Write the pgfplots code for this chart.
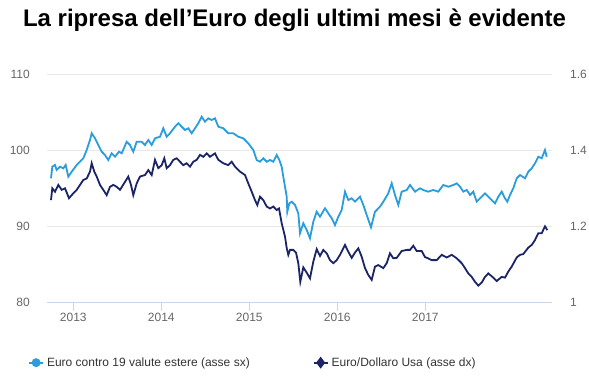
\documentclass[border=0pt]{standalone}
\usepackage{fontspec}
\setmainfont{Liberation Sans}
\usepackage{pgfplots}
\pgfplotsset{compat=1.18}
\definecolor{lightblue}{RGB}{42,157,220}
\definecolor{navy}{RGB}{26,36,102}
\definecolor{gridc}{RGB}{232,232,232}
\definecolor{axisc}{RGB}{204,214,235}
\definecolor{tickc}{RGB}{102,102,102}
\definecolor{legc}{RGB}{51,51,51}
\begin{document}
\begin{tikzpicture}
\useasboundingbox (0,0) rectangle (589pt,376pt);
\pgfplotsset{
  common/.style={
    at={(47pt,73.3pt)}, anchor=south west,
    scale only axis, width=505pt, height=228pt,
    xmin=47, xmax=552,
    /pgf/number format/assume math mode=true,
    ticklabel style={font=\fontsize{12}{14}\selectfont, text=tickc},
    clip=true,
  }
}
\begin{axis}[common,
  ymin=80, ymax=110,
  ytick={80,90,100,110},
  xtick={73.3,161.3,249.3,337.3,425.3},
  xticklabels={2013,2014,2015,2016,2017},
  ymajorgrids, major grid style={gridc, line width=1pt},
  separate axis lines,
  axis x line*=bottom,
  x axis line style={axisc, line width=1pt, -},
  axis y line*=left,
  y axis line style={draw=none},
  ytick style={draw=none},
  xtick style={axisc, line width=1pt},
  tick align=outside, major tick length=8pt,
  yticklabel style={anchor=east, inner sep=0pt, xshift=-9pt},
  xticklabel style={anchor=north, inner sep=0pt, yshift=-2pt},
  title={\fontsize{24}{28}\selectfont\bfseries La ripresa dell’Euro degli ultimi mesi è evidente},
  title style={at={(rel axis cs:0.49,1)}, anchor=center, yshift=48.7pt, inner sep=0pt},
]
\addplot[lightblue, line width=1.8pt] coordinates {
(51,96.37)(52.3,97.89)(55,98.12)(56.7,97.46)(60,97.89)(63.3,97.68)(65.7,98.12)(68.3,96.58)(71.7,97.24)(76.7,98.12)(80,98.55)(83.3,99.00)(86.7,100.09)(90,101.41)(91.7,102.29)(95,101.63)(98.3,100.75)(101.7,99.87)(105,99.43)(108.3,98.78)(111.7,99.66)(115,99.21)(119,99.87)(121.7,99.66)(126.7,101.18)(130,100.75)(133.3,99.87)(136.7,101.18)(141.7,101.18)(145,100.75)(148.3,101.41)(151.7,100.75)(155,101.63)(160,101.84)(163.3,102.95)(166.7,101.84)(170,102.29)(175,103.16)(178.3,103.61)(181.7,103.16)(185,102.72)(188.3,102.95)(191.7,102.29)(195,102.95)(198.3,103.61)(201.7,104.47)(205,103.82)(208.3,104.26)(211.7,104.04)(215,104.26)(218.3,103.16)(223.3,102.95)(228.3,102.29)(233.3,102.29)(238.3,101.84)(243.3,101.63)(248.3,100.97)(253.3,100.09)(256.7,98.78)(260,98.55)(263.3,99.00)(266.7,98.55)(270,98.78)(273.3,98.55)(276.7,99.43)(279.3,98.78)(281.7,97.89)(283.3,96.58)(285,95.26)(286.7,93.95)(287.3,91.97)(289.3,93.08)(291.7,93.29)(295,92.86)(298.3,91.76)(300,89.13)(303.3,90.45)(306.7,89.57)(310,88.47)(313.3,90.66)(316.7,91.97)(320,91.32)(325,92.42)(328.3,91.76)(331.7,91.11)(335,90.22)(338.3,91.32)(341.7,92.20)(345,94.61)(348.3,93.51)(351.7,93.74)(355,93.29)(360,93.95)(363.3,92.86)(366.7,91.54)(371,89.92)(375,91.97)(380,92.63)(383.3,93.29)(388.3,94.39)(391.7,95.71)(395,94.17)(398.3,92.86)(401.7,94.61)(406.7,94.83)(410,95.49)(415,94.61)(420,95.05)(423.3,94.83)(428.3,94.61)(433.3,94.83)(438.3,94.61)(443.3,95.49)(448.3,95.26)(453.3,95.49)(456.7,95.71)(460,95.26)(463.3,94.61)(466.7,94.83)(470,94.17)(473.3,94.61)(476.7,93.29)(480,93.74)(485,94.39)(488.3,93.95)(491.7,93.51)(495,93.08)(498.3,93.95)(501.7,94.61)(505,93.74)(507.3,93.29)(510,94.17)(513.3,95.05)(516.7,96.37)(520,96.80)(525,96.37)(528.3,97.24)(531.7,97.68)(535,98.34)(538.3,99.21)(541.7,99.00)(545,100.09)(546.7,99.21)
};
\end{axis}
\begin{axis}[common,
  ymin=1, ymax=1.6,
  ytick={1,1.2,1.4,1.6},
  yticklabels={1,1.2,1.4,1.6},
  xtick=\empty,
  separate axis lines,
  axis x line=none,
  axis y line*=right,
  y axis line style={draw=none},
  ytick style={draw=none},
  yticklabel style={anchor=west, inner sep=0pt, xshift=18pt},
  legend style={at={(rel axis cs:-0.0376,-0.263)}, anchor=west, draw=none, fill=none,
    inner sep=0pt, font=\fontsize{12}{14}\selectfont, text=legc,
    /tikz/every even column/.append style={column sep=60pt},
    nodes={inner sep=3pt}},
  legend columns=2,
  legend image code/.code={\draw[mark repeat=2, mark phase=2, #1] plot coordinates {(0pt,0pt)(7pt,0pt)(14pt,0pt)};},
]
\addplot[navy, line width=1.8pt, forget plot] coordinates {
(51,1.270)(52.3,1.301)(55,1.292)(58.3,1.310)(61.7,1.297)(65,1.301)(69,1.275)(73.3,1.288)(76.7,1.297)(80,1.310)(83.3,1.323)(86.7,1.327)(90,1.345)(91.7,1.367)(94.3,1.345)(96.7,1.332)(100,1.310)(103.3,1.297)(106.7,1.283)(110,1.305)(113.3,1.310)(116.7,1.305)(120,1.297)(125,1.318)(128.3,1.332)(131,1.310)(133.3,1.283)(136.7,1.314)(140,1.332)(145,1.336)(148.3,1.349)(151.7,1.336)(155,1.376)(158.3,1.354)(161.7,1.362)(164.3,1.380)(166.7,1.354)(170,1.362)(173.3,1.376)(176.7,1.380)(180,1.371)(183.3,1.362)(186.7,1.367)(190,1.358)(193.3,1.371)(196.7,1.376)(200,1.389)(203.3,1.384)(206.7,1.393)(210,1.384)(215,1.393)(218.3,1.376)(223.3,1.367)(228.3,1.362)(231.7,1.371)(235,1.358)(240,1.345)(245,1.336)(248.3,1.314)(251.7,1.292)(255,1.270)(257.3,1.257)(260,1.279)(263.3,1.270)(266.7,1.253)(270,1.248)(273.3,1.253)(276.7,1.244)(279,1.248)(281.7,1.209)(285,1.174)(286.7,1.144)(288.3,1.126)(290,1.139)(293.3,1.139)(296,1.132)(298.3,1.104)(300.3,1.055)(303.3,1.093)(306.7,1.079)(310,1.064)(313.3,1.108)(316.7,1.141)(320,1.123)(323.3,1.139)(326.7,1.130)(330,1.112)(333.3,1.104)(336.7,1.112)(340,1.126)(345,1.152)(348.3,1.134)(351.7,1.118)(355,1.132)(358.3,1.143)(361.7,1.121)(365,1.091)(368.3,1.073)(371.7,1.060)(375,1.095)(378.3,1.099)(383.3,1.091)(386.7,1.104)(390,1.130)(393.3,1.117)(396.7,1.118)(401.7,1.136)(406.7,1.139)(410,1.139)(413.3,1.150)(416.7,1.136)(421.7,1.136)(425,1.120)(428,1.117)(431.7,1.112)(436.7,1.112)(441.7,1.126)(446.7,1.119)(451.7,1.126)(456.7,1.117)(461.7,1.104)(465,1.091)(468.3,1.077)(471.7,1.068)(475,1.055)(478.3,1.045)(481.7,1.053)(485,1.068)(488.3,1.077)(493.3,1.066)(496.7,1.057)(501.7,1.068)(505,1.066)(508.3,1.082)(511.7,1.095)(516.7,1.119)(520,1.126)(523.3,1.128)(528.3,1.145)(531.7,1.152)(535,1.165)(538.3,1.183)(541.7,1.183)(545,1.201)(547.3,1.191)
};
\addlegendimage{lightblue, line width=1.8pt, mark=*, mark size=3.5pt}
\addlegendentry{Euro contro 19 valute estere (asse sx)}
\addlegendimage{navy, line width=1.8pt, mark=diamond*, mark size=4.5pt}
\addlegendentry{Euro/Dollaro Usa (asse dx)}
\end{axis}
\end{tikzpicture}
\end{document}
